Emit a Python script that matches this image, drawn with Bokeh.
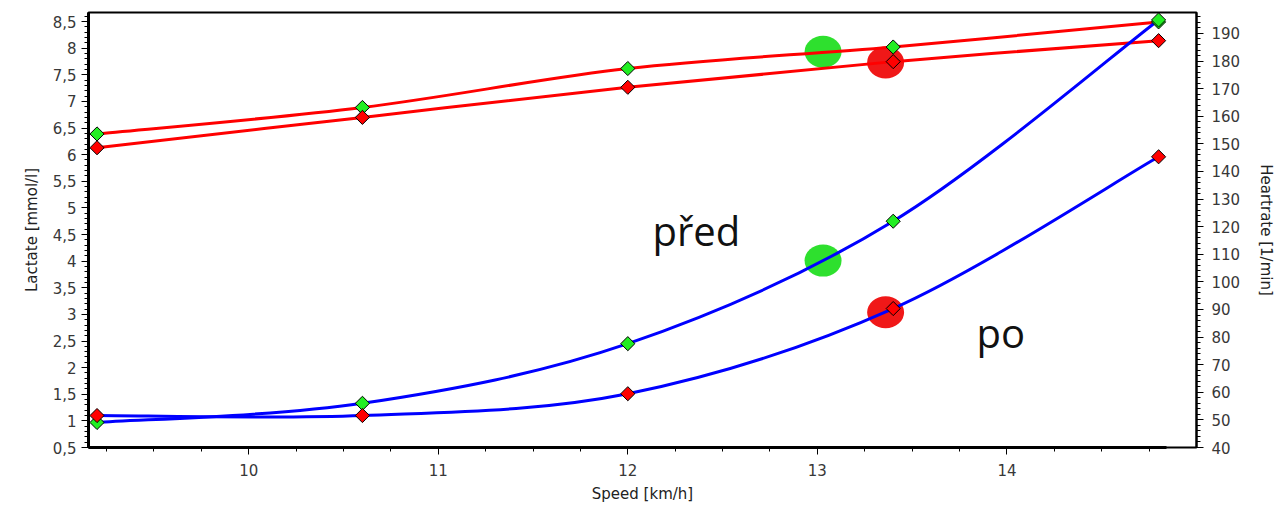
import numpy as np
from bokeh.plotting import figure
from bokeh.models import (Range1d, LinearAxis, SingleIntervalTicker,
                          CustomJSTickFormatter, ColumnDataSource)
from bokeh.core.properties import value
from bokeh.embed import file_html
from bokeh.resources import INLINE

# ---- data ----
speed = [9.2, 10.6, 12.0, 13.4, 14.8]
lactate_pred = [0.97, 1.33, 2.45, 4.75, 8.53]
lactate_po = [1.10, 1.10, 1.51, 3.11, 5.96]
hr_pred = [153.6, 163.2, 177.3, 185.1, 194.2]
hr_po = [148.6, 159.6, 170.5, 179.8, 187.4]
threshold_speed = [13.03, 13.36]
threshold_lactate = [4.01, 3.04]
threshold_hr = [183.4, 179.5]
series_names = ["před", "po"]

GREEN = "#22ee22"
RED = "#ff0000"
BIG_GREEN = "#2ee02e"
BIG_RED = "#f01818"
BLUE = "#0000ff"


def curve_source(xs, ys):
    """Catmull-Rom Bezier control points through the data points."""
    n = len(xs)
    d = dict(x0=[], y0=[], x1=[], y1=[], cx0=[], cy0=[], cx1=[], cy1=[])
    for i in range(n - 1):
        im = max(i - 1, 0)
        ip = min(i + 2, n - 1)
        d["x0"].append(xs[i]); d["y0"].append(ys[i])
        d["x1"].append(xs[i + 1]); d["y1"].append(ys[i + 1])
        d["cx0"].append(xs[i] + (xs[i + 1] - xs[im]) / 6)
        d["cy0"].append(ys[i] + (ys[i + 1] - ys[im]) / 6)
        d["cx1"].append(xs[i + 1] - (xs[ip] - xs[i]) / 6)
        d["cy1"].append(ys[i + 1] - (ys[ip] - ys[i]) / 6)
    return ColumnDataSource(d)


p = figure(width=1278, height=507,
           x_range=Range1d(9.155, 15.0), y_range=Range1d(0.5, 8.67),
           output_backend="svg", toolbar_location=None,
           min_border_left=88, min_border_right=80,
           min_border_top=12, min_border_bottom=60,
           background_fill_color="white", border_fill_color="white")
p.extra_y_ranges = {"hr": Range1d(40, 197.6)}
p.grid.visible = False
p.outline_line_color = "black"
p.outline_line_width = 2

fmt = CustomJSTickFormatter(code="return (Math.round(tick*10)/10).toString().replace('.', ',');")
TICK_FONT = "DejaVu Sans"

# x axis
xa = p.xaxis[0]
xa.ticker = SingleIntervalTicker(interval=1, num_minor_ticks=4)
xa.bounds = (9.155, 14.84)
xa.axis_label = "Speed [km/h]"

# left axis
ya = p.yaxis[0]
ya.ticker = SingleIntervalTicker(interval=0.5, num_minor_ticks=5)
ya.formatter = fmt
ya.axis_label = "Lactate [mmol/l]"

# right axis
ra = LinearAxis(y_range_name="hr",
                ticker=SingleIntervalTicker(interval=10, num_minor_ticks=5),
                axis_label="Heartrate [1/min]")
p.add_layout(ra, "right")

for ax in (xa, ya, ra):
    ax.axis_line_color = "black"
    ax.major_tick_line_color = "black"
    ax.minor_tick_line_color = "black"
    ax.major_tick_in = 0
    ax.major_tick_out = 7
    ax.minor_tick_in = 0
    ax.minor_tick_out = 4
    ax.major_label_text_font = TICK_FONT
    ax.major_label_text_font_size = "15px"
    ax.major_label_text_color = "#383838"
    ax.axis_label_text_font = TICK_FONT
    ax.axis_label_text_font_size = "15px"
    ax.axis_label_text_font_style = "normal"
    ax.axis_label_text_color = "#222222"
xa.axis_line_width = 3
ya.axis_line_width = 3
ra.axis_line_width = 2
xa.major_label_standoff = 9
xa.axis_label_standoff = 6
ya.axis_label_standoff = 9
ra.major_label_standoff = 8
ra.axis_label_standoff = 14

# big threshold circles (under the lines)
for i, col in enumerate([BIG_GREEN, BIG_RED]):
    p.ellipse(x=[threshold_speed[i]], y=[threshold_lactate[i]],
              width=37, height=32, width_units="screen", height_units="screen",
              fill_color=col, line_color=None)
    p.ellipse(x=[threshold_speed[i]], y=[threshold_hr[i]],
              width=37, height=32, width_units="screen", height_units="screen",
              fill_color=col, line_color=None, y_range_name="hr")

# heart-rate curves (right axis)
for ys in (hr_pred, hr_po):
    p.bezier(x0="x0", y0="y0", x1="x1", y1="y1", cx0="cx0", cy0="cy0",
             cx1="cx1", cy1="cy1", source=curve_source(speed, ys),
             line_color=RED, line_width=3, y_range_name="hr")

# lactate curves (left axis)
for ys in (lactate_pred, lactate_po):
    p.bezier(x0="x0", y0="y0", x1="x1", y1="y1", cx0="cx0", cy0="cy0",
             cx1="cx1", cy1="cy1", source=curve_source(speed, ys),
             line_color=BLUE, line_width=3)

# markers
for ys, col, rng in ((hr_pred, GREEN, "hr"), (hr_po, RED, "hr"),
                     (lactate_pred, GREEN, "default"), (lactate_po, RED, "default")):
    p.scatter(x=speed, y=ys, marker="square", angle=np.pi / 4, size=10,
              fill_color=col, line_color="black", line_width=1,
              y_range_name=rng)

# labels
p.text(x=[12.13], y=[4.57], text=[series_names[0]], text_font=value("Open Sans"),
       text_font_size="40px", text_baseline="alphabetic", text_color="#111111")
p.text(x=[13.84], y=[2.66], text=[series_names[1]], text_font=value("Open Sans"),
       text_font_size="40px", text_baseline="alphabetic", text_color="#111111")

open("out.html", "w").write(file_html(p, INLINE))
